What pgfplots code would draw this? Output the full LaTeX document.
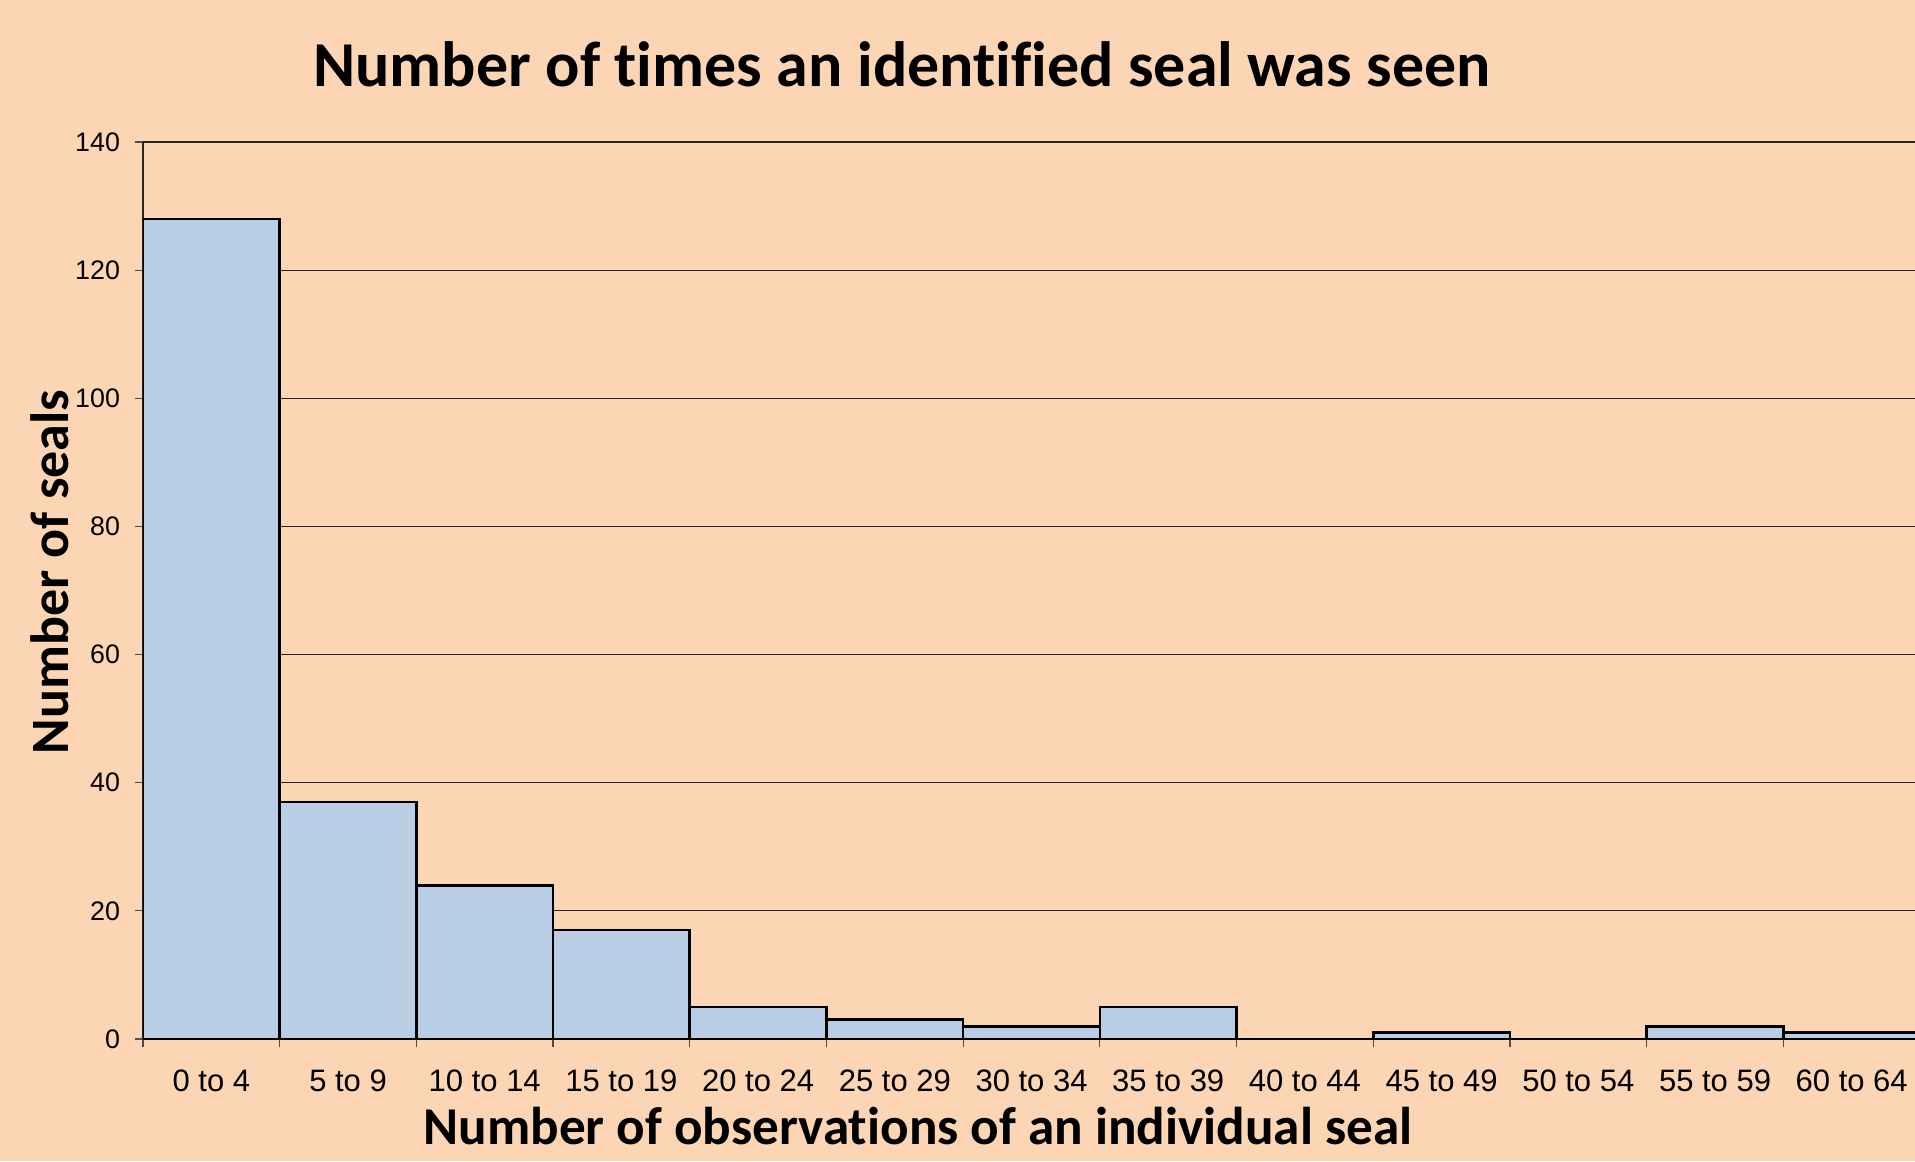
\documentclass[border=0pt]{standalone}
\usepackage{pgfplots}
\pgfplotsset{compat=1.18}
\usepackage{fontspec}
\setmainfont{Liberation Sans}
\newfontfamily\calibri[Ligatures={NoCommon}]{Carlito}
\definecolor{bg}{RGB}{252,213,181}
\definecolor{barblue}{RGB}{185,205,229}
\begin{document}
\begin{tikzpicture}[x=0.5pt,y=-0.5pt]
\fill[bg, use as bounding box] (0,0) rectangle (1915,1161);
\begin{axis}[
  at={(71.5pt,-519.5pt)}, anchor=south west,
  scale only axis, width=886pt, height=448.5pt,
  xmin=0, xmax=12.963, ymin=0, ymax=140,
  axis lines=left,
  axis line style={-, color=black!85, line width=0.8pt},
  ytick={0,20,...,140},
  ymajorgrids,
  grid style={black!85, line width=0.6pt},
  tick align=outside,
  major tick length=4pt, minor tick length=4pt,
  xtick={0.5,1.5,...,12.5},
  xticklabels={0 to 4,5 to 9,10 to 14,15 to 19,20 to 24,25 to 29,30 to 34,35 to 39,40 to 44,45 to 49,50 to 54,55 to 59,60 to 64},
  minor xtick={0,1,...,12},
  major x tick style={draw=none},
  tick style={color=black!70, line width=0.6pt},
  xticklabel style={font=\fontsize{15.5pt}{18pt}\selectfont, anchor=base, yshift=-22pt},
  yticklabel style={font=\fontsize{13.4pt}{16pt}\selectfont, xshift=-4pt},
  /pgf/number format/assume math mode=true,
]
\addplot[ybar, bar width=1, bar shift=0pt, fill=barblue, draw=black, line width=1.3pt]
coordinates {(0.5,128) (1.5,37) (2.5,24) (3.5,17) (4.5,5) (5.5,3) (6.5,2) (7.5,5) (8.5,0) (9.5,1) (10.5,0) (11.5,2) (12.5,1)};
\end{axis}
\node[anchor=base, font=\calibri\bfseries\fontsize{32pt}{37pt}\selectfont] at (902,87) {Number of times an identified seal was seen};
\node[anchor=base, font=\calibri\bfseries\fontsize{26.6pt}{31pt}\selectfont] at (918,1144) {Number of observations of an individual seal};
\node[anchor=base, rotate=90, font=\calibri\bfseries\fontsize{27pt}{32pt}\selectfont] at (68,572) {Number of seals};
\end{tikzpicture}
\end{document}
